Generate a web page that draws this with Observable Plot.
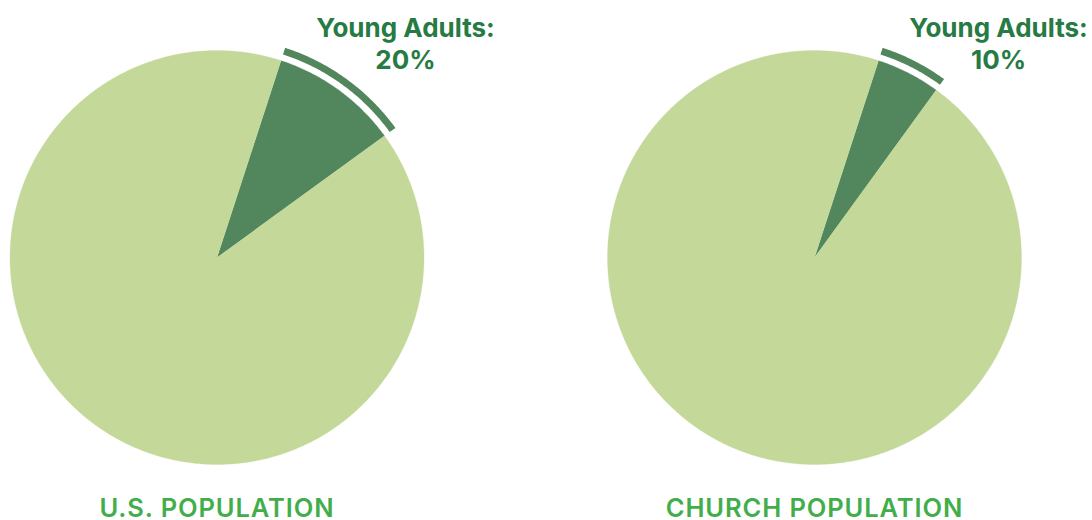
<!DOCTYPE html>
<html><head><meta charset="utf-8">
<script src="https://cdn.jsdelivr.net/npm/d3@7"></script>
<script src="https://cdn.jsdelivr.net/npm/@observablehq/plot@0.6"></script>
<style>body{margin:0;background:#fff} #chart{width:1092px;height:520px}</style>
</head><body><div id="chart"></div>
<script>
// ---- data ----
const populations = ["U.S. POPULATION", "CHURCH POPULATION"];
const youngAdultLabels = ["20%", "10%"];
const youngAdultShare = [10, 5];   // share of the pie as drawn (%)
const otherShare = [90, 95];
const sliceNames = ["Young Adults", "Others"];

// ---- layout (pixels -> data units, radius = 1) ----
const W = 1092, H = 520, R = 207;
const cxPx = [216.5, 814], cyPx = 257;
const toX = px => (px - cxPx[0]) / R;
const toY = py => (cyPx - py) / R;
const centers = cxPx.map(toX);
const labelXpx = [405, 998];
const colors = {"Young Adults": "#52875e", "Others": "#c3d899"};
const start = Math.PI / 10;
const pie = d3.pie().sort(null).value(d => d.value).startAngle(start).endAngle(start + 2 * Math.PI);

function ring(cx, a0, a1, r0, r1, id, key) {
  const n = Math.max(2, Math.ceil((a1 - a0) / (Math.PI / 360)));
  const pts = [];
  for (let i = 0; i <= n; i++) { const a = a0 + (a1 - a0) * i / n; pts.push({x: cx + r1 * Math.sin(a), y: r1 * Math.cos(a), id, key}); }
  if (r0 === 0) pts.push({x: cx, y: 0, id, key});
  else for (let i = n; i >= 0; i--) { const a = a0 + (a1 - a0) * i / n; pts.push({x: cx + r0 * Math.sin(a), y: r0 * Math.cos(a), id, key}); }
  return pts;
}

const slicePts = [], bandPts = [], labels = [], titles = [];
populations.forEach((p, i) => {
  const rows = [{name: sliceNames[0], value: youngAdultShare[i]}, {name: sliceNames[1], value: otherShare[i]}];
  pie(rows).forEach((s, j) => {
    slicePts.push(...ring(centers[i], s.startAngle, s.endAngle, 0, 1, p + j, s.data.name));
    if (s.data.name === "Young Adults")
      bandPts.push(...ring(centers[i], s.startAngle, s.endAngle, 213.5 / R, 220.5 / R, p + "band", s.data.name));
  });
  labels.push({x: toX(labelXpx[i]), y: toY(14), text: sliceNames[0] + ":\n" + youngAdultLabels[i]});
  titles.push({x: centers[i], y: toY(498), text: p});
});

const chart = Plot.plot({
  width: W, height: H, margin: 0,
  style: {fontFamily: "Inter, sans-serif", background: "#fff"},
  x: {domain: [toX(0), toX(W)], axis: null},
  y: {domain: [toY(H), toY(0)], axis: null},
  marks: [
    ...sliceNames.map(k => Plot.line(slicePts.filter(d => d.key === k), {x: "x", y: "y", z: "id", fill: colors[k], stroke: colors[k], strokeWidth: 0.3, curve: "linear"})),
    Plot.line(bandPts, {x: "x", y: "y", z: "id", fill: colors["Young Adults"], stroke: "none", curve: "linear"}),
    Plot.text(labels, {x: "x", y: "y", text: "text", lineAnchor: "top", lineHeight: 1.22, fontSize: 26, fontWeight: 700, fill: "#267a43"}),
    Plot.text(titles, {x: "x", y: "y", text: "text", lineAnchor: "top", fontSize: 25.5, fontWeight: 600, fill: "#42ae4b"})
  ]
});
const textGroups = chart.querySelectorAll('g[aria-label="text"]');
textGroups[textGroups.length - 1].style.letterSpacing = "0.9px";
document.getElementById("chart").appendChild(chart);
</script>
</body></html>
